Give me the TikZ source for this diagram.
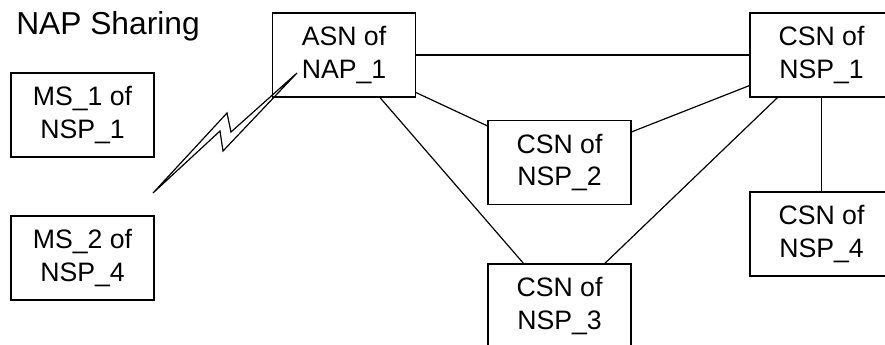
\documentclass[tikz,border=0pt]{standalone}
\usepackage{fontspec}
\setmainfont{Liberation Sans}
\usepackage{tikz}
\usetikzlibrary{calc}

\begin{document}
\begin{tikzpicture}[x=0.75pt,y=-0.75pt,
	box/.style={draw,line width=0.9pt,minimum width=107.25pt,minimum height=63pt,
		align=center,inner sep=0pt,font=\fontsize{20}{24.4}\selectfont},
	link/.style={line width=0.9pt}]
		\useasboundingbox (0,0) rectangle (885,345);
		\clip (0,0) rectangle (885,345);
		\node[anchor=base west,inner sep=0pt,font=\fontsize{23.8}{28}\selectfont] (title) at (16,35) {NAP Sharing};
		\node[box] (ms1) at (82.5,115) {MS\_1 of\\NSP\_1};
		\node[box] (ms2) at (82.5,258) {MS\_2 of\\NSP\_4};
		\node[box] (asn) at (344,55) {ASN of\\NAP\_1};
		\node[box] (csn2) at (559.5,162.5) {CSN of\\NSP\_2};
		\node[box] (csn3) at (559.5,306) {CSN of\\NSP\_3};
		\node[box] (csn1) at (821.5,55) {CSN of\\NSP\_1};
		\node[box] (csn4) at (821.5,234) {CSN of\\NSP\_4};
		\draw[link] (asn) -- (csn1);
		\draw[link] ([yshift=3.75pt]asn.south east) -- ([yshift=-4.5pt]csn2.north west);
		\draw[link] ([xshift=27pt]asn.south) -- ([xshift=-27pt]csn3.north);
		\draw[link] ([yshift=9pt]csn1.south west) -- ([yshift=-9pt]csn2.north east);
		\draw[link] ([xshift=-33pt]csn1.south) -- ([xshift=34pt]csn3.north);
		\draw[link] (csn1) -- (csn4);
		% radio link
		\coordinate (bolt start) at (153,193);
		\coordinate (bolt end) at (297,73);
		\draw[link] (bolt start) -- (220,131) -- (223,151) -- (bolt end) -- (231,132) -- (227,113) -- cycle;
\end{tikzpicture}
\end{document}
